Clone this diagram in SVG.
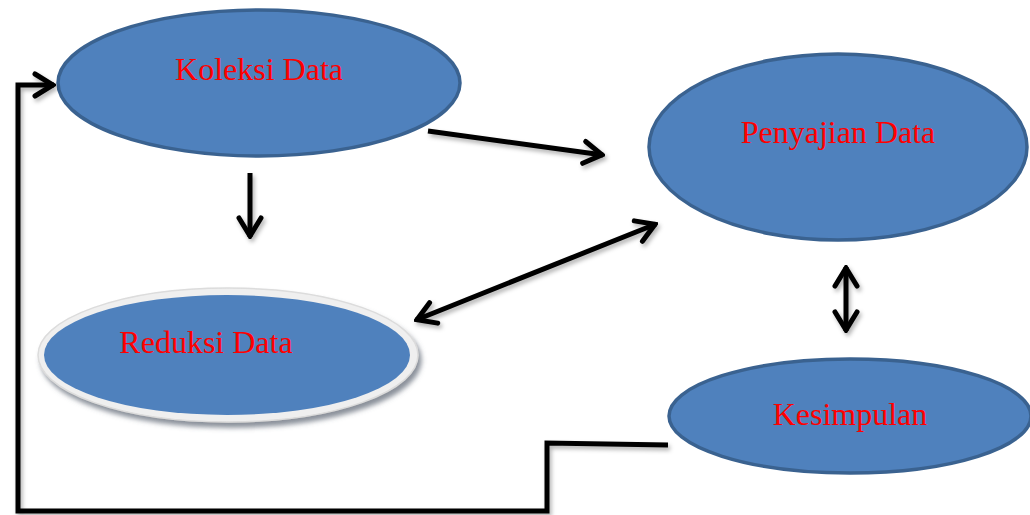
<svg xmlns="http://www.w3.org/2000/svg" width="1030" height="515" viewBox="0 0 1030 515">
  <style>
    .node { fill: #4f81bd; stroke: #3a6290; stroke-width: 3.5; }
    .label { font-family: "Liberation Serif", "Times New Roman", serif; font-size: 32px; fill: #ff0000; text-anchor: middle; }
    .wire { fill: none; stroke: #000; stroke-width: 5; stroke-linejoin: miter; }
  </style>
  <defs>
    <filter id="soft" x="-10%" y="-10%" width="120%" height="130%">
      <feDropShadow dx="2" dy="3" stdDeviation="2" flood-color="#000" flood-opacity="0.3"/>
    </filter>
    <filter id="rimShadow" x="-10%" y="-10%" width="120%" height="130%">
      <feDropShadow dx="3" dy="5" stdDeviation="2.5" flood-color="#5a6470" flood-opacity="0.7"/>
    </filter>
    <marker id="chev" viewBox="0 0 24 28" refX="22" refY="14" markerWidth="24" markerHeight="28" markerUnits="userSpaceOnUse" orient="auto-start-reverse">
      <path d="M3,3 L21,14 L3,25" fill="none" stroke="#000" stroke-width="5" stroke-linecap="round" stroke-linejoin="miter"/>
    </marker>
  </defs>

  <!-- nodes -->
  <g id="koleksi">
    <ellipse class="node" cx="259" cy="83" rx="201" ry="73"/>
    <text class="label" x="259" y="80">Koleksi Data</text>
  </g>
  <g id="penyajian">
    <ellipse class="node" cx="838" cy="147" rx="189" ry="93"/>
    <text class="label" x="838" y="143">Penyajian Data</text>
  </g>
  <g id="reduksi">
    <ellipse cx="228" cy="355" rx="190" ry="67" fill="#efefef" stroke="#dcdcdc" stroke-width="1.5" filter="url(#rimShadow)"/>
    <ellipse cx="227" cy="355" rx="183" ry="60" fill="#4f81bd"/>
    <text class="label" x="206" y="353">Reduksi Data</text>
  </g>
  <g id="kesimpulan">
    <ellipse class="node" cx="850" cy="416" rx="181" ry="57"/>
    <text class="label" x="850" y="425">Kesimpulan</text>
  </g>

  <!-- connectors -->
  <g id="connectors" filter="url(#soft)">
    <path class="wire" d="M668,445 L547,443 L547,511 L18,511 L18,85 L54,85" marker-end="url(#chev)"/>
    <line class="wire" x1="428" y1="131" x2="603" y2="155" marker-end="url(#chev)"/>
    <line class="wire" x1="250" y1="173" x2="250" y2="237" marker-end="url(#chev)"/>
    <line class="wire" x1="416" y1="320" x2="656" y2="224" marker-start="url(#chev)" marker-end="url(#chev)"/>
    <line class="wire" x1="846" y1="267" x2="846" y2="331" marker-start="url(#chev)" marker-end="url(#chev)"/>
  </g>
</svg>
